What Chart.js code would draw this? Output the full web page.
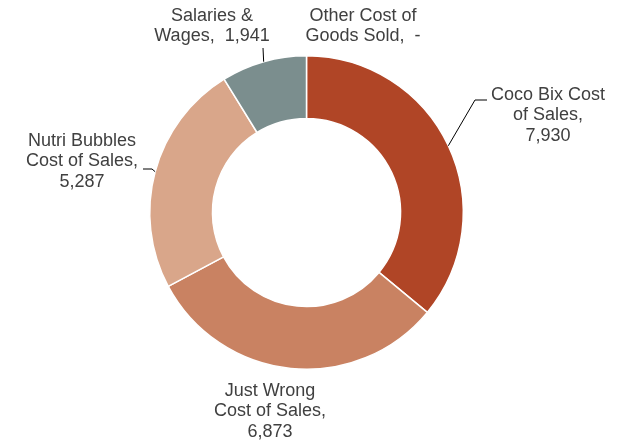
<!DOCTYPE html>
<html>
<head>
<meta charset="utf-8">
<script src="https://cdn.jsdelivr.net/npm/chart.js@4.4.1/dist/chart.umd.min.js"></script>
<style>
  html, body { margin: 0; padding: 0; background: #ffffff; }
  #wrap { width: 636px; height: 444px; position: relative; }
</style>
</head>
<body>
<div id="wrap"><canvas id="c" width="636" height="444"></canvas></div>
<script>
// Cost breakdown by line item
const categories = [
  'Coco Bix Cost of Sales',
  'Just Wrong Cost of Sales',
  'Nutri Bubbles Cost of Sales',
  'Salaries & Wages',
  'Other Cost of Goods Sold'
];
const costValues = [7930, 6873, 5287, 1941, 0];

// How each data label wraps; {v} is replaced by the formatted value
const labelLines = [
  ['Coco Bix Cost', 'of Sales,', '{v}'],
  ['Just Wrong', 'Cost of Sales,', '{v}'],
  ['Nutri Bubbles', 'Cost of Sales,', '{v}'],
  ['Salaries &', 'Wages,  {v}'],
  ['Other Cost of', 'Goods Sold,  {v}']
];

const sliceColors = ['#B04526', '#C98262', '#D9A68A', '#7B8E8E', '#A5A5A5'];

function fmtValue(v) {
  return v === 0 ? '-' : v.toLocaleString('en-US');
}

// Label placement: centre x and first-line middle y, plus optional leader path
const labelLayout = [
  { x: 548, y: 95,  leader: [[475, 100], [487, 100]] },
  { x: 270, y: 391, leader: null },
  { x: 82,  y: 141, leader: [[152, 169], [143, 169]] },
  { x: 212, y: 16,  leader: [[263, 48]] },
  { x: 363, y: 16,  leader: null }
];

const dataLabels = {
  id: 'dataLabels',
  afterDatasetsDraw(chart) {
    const ctx = chart.ctx;
    const meta = chart.getDatasetMeta(0);
    const values = chart.data.datasets[0].data;
    ctx.save();
    ctx.font = '18px "Liberation Sans", Arial, sans-serif';
    ctx.fillStyle = '#404040';
    ctx.textAlign = 'center';
    ctx.textBaseline = 'middle';
    const lh = 20.5;
    meta.data.forEach((arc, i) => {
      const lay = labelLayout[i];
      const lines = labelLines[i].map(s => s.replace('{v}', fmtValue(values[i])));
      lines.forEach((t, k) => ctx.fillText(t, lay.x, lay.y + k * lh));
      if (lay.leader) {
        const p = arc.getProps(['x', 'y', 'startAngle', 'endAngle', 'outerRadius'], true);
        const mid = (p.startAngle + p.endAngle) / 2;
        const sx = p.x + Math.cos(mid) * p.outerRadius;
        const sy = p.y + Math.sin(mid) * p.outerRadius;
        ctx.beginPath();
        ctx.strokeStyle = '#000000';
        ctx.lineWidth = 1;
        ctx.moveTo(sx, sy);
        lay.leader.forEach(pt => ctx.lineTo(pt[0], pt[1]));
        ctx.stroke();
      }
    });
    ctx.restore();
  }
};

new Chart(document.getElementById('c'), {
  type: 'doughnut',
  data: {
    labels: categories,
    datasets: [{
      data: costValues,
      backgroundColor: sliceColors,
      borderColor: '#ffffff',
      borderWidth: 1.5
    }]
  },
  options: {
    responsive: false,
    animation: false,
    cutout: '60%',
    layout: { padding: { top: 55, bottom: 74, left: 149, right: 172 } },
    plugins: {
      legend: { display: false },
      tooltip: { enabled: false }
    }
  },
  plugins: [dataLabels]
});
</script>
</body>
</html>
